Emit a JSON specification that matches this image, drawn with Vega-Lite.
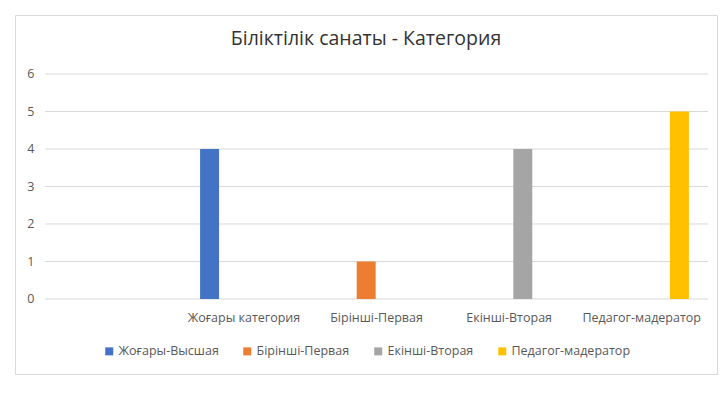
{
  "$schema": "https://vega.github.io/schema/vega-lite/v6.json",
  "autosize": "none",
  "width": 702,
  "height": 359,
  "padding": {"left": 15, "top": 15, "right": 10, "bottom": 20},
  "background": "white",
  "config": {
    "view": {"stroke": "#d9d9d9", "strokeWidth": 1},
    "font": "Open Sans"
  },
  "title": {
    "text": "Біліктілік санаты - Категория",
    "font": "Open Sans",
    "fontSize": 19.5,
    "fontWeight": "normal",
    "color": "#333333",
    "anchor": "middle",
    "baseline": "alphabetic",
    "offset": -49
  },
  "datasets": {
    "bars": [
      {"category": "Жоғары категория", "series": "Жоғары-Высшая", "value": 4},
      {"category": "Жоғары категория", "series": "Бірінші-Первая", "value": 0},
      {"category": "Жоғары категория", "series": "Екінші-Вторая", "value": 0},
      {"category": "Жоғары категория", "series": "Педагог-мадератор", "value": 0},
      {"category": "Бірінші-Первая", "series": "Жоғары-Высшая", "value": 0},
      {"category": "Бірінші-Первая", "series": "Бірінші-Первая", "value": 1},
      {"category": "Бірінші-Первая", "series": "Екінші-Вторая", "value": 0},
      {"category": "Бірінші-Первая", "series": "Педагог-мадератор", "value": 0},
      {"category": "Екінші-Вторая", "series": "Жоғары-Высшая", "value": 0},
      {"category": "Екінші-Вторая", "series": "Бірінші-Первая", "value": 0},
      {"category": "Екінші-Вторая", "series": "Екінші-Вторая", "value": 4},
      {"category": "Екінші-Вторая", "series": "Педагог-мадератор", "value": 0},
      {"category": "Педагог-мадератор", "series": "Жоғары-Высшая", "value": 0},
      {"category": "Педагог-мадератор", "series": "Бірінші-Первая", "value": 0},
      {"category": "Педагог-мадератор", "series": "Екінші-Вторая", "value": 0},
      {"category": "Педагог-мадератор", "series": "Педагог-мадератор", "value": 5}
    ],
    "grid": [{"g": 0}, {"g": 1}, {"g": 2}, {"g": 3}, {"g": 4}, {"g": 5}, {"g": 6}]
  },
  "layer": [
    {
      "data": {"name": "grid"},
      "mark": {"type": "rule", "color": "#d9d9d9", "strokeWidth": 1},
      "encoding": {
        "y": {"field": "g", "type": "quantitative"},
        "x": {"datum": " ", "bandPosition": 0},
        "x2": {"datum": "Педагог-мадератор", "bandPosition": 1}
      }
    },
    {
      "data": {"name": "bars"},
      "mark": {"type": "bar"},
      "encoding": {
        "x": {"field": "category", "type": "nominal"},
        "xOffset": {
          "field": "series",
          "type": "nominal",
          "sort": ["Жоғары-Высшая", "Бірінші-Первая", "Екінші-Вторая", "Педагог-мадератор"],
          "scale": {"domain": ["Жоғары-Высшая", "Бірінші-Первая", "Екінші-Вторая", "Педагог-мадератор"], "paddingInner": 0.21, "paddingOuter": 0.867, "align": 0.54}
        },
        "y": {"field": "value", "type": "quantitative"},
        "color": {
          "field": "series",
          "type": "nominal",
          "scale": {
            "domain": ["Жоғары-Высшая", "Бірінші-Первая", "Екінші-Вторая", "Педагог-мадератор"],
            "range": ["#4472C4", "#ED7D31", "#A5A5A5", "#FFC000"]
          },
          "legend": {
            "title": null,
            "orient": "none",
            "legendX": 88,
            "legendY": 330,
            "direction": "horizontal",
            "symbolType": "square",
            "symbolSize": 64,
            "symbolStrokeWidth": 0,
            "labelFont": "Open Sans",
            "labelFontSize": 12.5,
            "labelColor": "#595959",
            "labelOffset": 3,
            "columnPadding": 22
          }
        }
      }
    }
  ],
  "encoding": {
    "x": {
      "type": "nominal",
      "scale": {
        "type": "band",
        "domain": [" ", "Жоғары категория", "Бірінші-Первая", "Екінші-Вторая", "Педагог-мадератор"],
        "paddingInner": 0,
        "paddingOuter": 0.147,
        "align": 0.77
      },
      "axis": {
        "title": null,
        "offset": -75,
        "domain": false,
        "ticks": false,
        "grid": false,
        "labelAngle": 0,
        "labelFont": "Open Sans",
        "labelFontSize": 12.5,
        "labelColor": "#595959",
        "labelPadding": 12
      }
    },
    "y": {
      "type": "quantitative",
      "scale": {"domain": [-2, 7.573], "nice": false, "zero": false},
      "axis": {
        "title": null,
        "values": [0, 1, 2, 3, 4, 5, 6],
        "offset": -21,
        "domain": false,
        "ticks": false,
        "grid": false,
        "labelFont": "Open Sans",
        "labelFontSize": 12.5,
        "labelColor": "#595959",
        "labelPadding": 2
      }
    }
  }
}
